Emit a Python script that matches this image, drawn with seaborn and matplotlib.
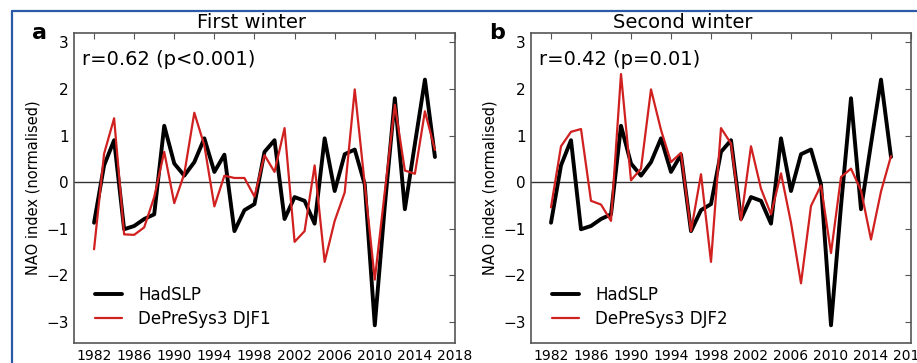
import matplotlib
matplotlib.use("Agg")
import matplotlib.pyplot as plt
from matplotlib.lines import Line2D
import seaborn as sns
import pandas as pd

years = list(range(1982, 2017))
hadslp = [-0.87, 0.36, 0.90, -1.01, -0.94, -0.79, -0.69, 1.21, 0.40, 0.14,
          0.43, 0.94, 0.22, 0.59, -1.05, -0.60, -0.47, 0.65, 0.90, -0.79,
          -0.32, -0.40, -0.89, 0.94, -0.19, 0.60, 0.70, -0.05, -3.07, -0.51,
          1.80, -0.58, 0.82, 2.20, 0.54]
djf1 = [-1.44, 0.61, 1.37, -1.12, -1.13, -0.97, -0.32, 0.65, -0.45, 0.18,
        1.49, 0.79, -0.52, 0.14, 0.09, 0.09, -0.31, 0.58, 0.22, 1.16,
        -1.28, -1.05, 0.36, -1.71, -0.83, -0.22, 1.99, -0.05, -2.09, -0.20,
        1.66, 0.25, 0.18, 1.52, 0.69]
djf2 = [-0.54, 0.77, 1.08, 1.14, -0.40, -0.48, -0.83, 2.32, 0.04, 0.29,
        1.99, 1.12, 0.43, 0.63, -1.05, 0.17, -1.71, 1.16, 0.83, -0.82,
        0.77, -0.14, -0.69, 0.19, -0.87, -2.17, -0.51, -0.07, -1.52, 0.11,
        0.29, -0.18, -1.23, -0.20, 0.56]

panel_letters = ["a", "b"]
titles = ["First winter", "Second winter"]
stats = ["r=0.62 (p<0.001)", "r=0.42 (p=0.01)"]
model_labels = ["DePreSys3 DJF1", "DePreSys3 DJF2"]
models = [djf1, djf2]
xticks = list(range(1982, 2019, 4))
yticks = [-3, -2, -1, 0, 1, 2, 3]

sns.set_style("white")
plt.rcParams["font.family"] = ["DejaVu Sans"]
plt.rcParams["text.color"] = "black"
plt.rcParams["axes.labelcolor"] = "black"
plt.rcParams["xtick.color"] = "black"
plt.rcParams["ytick.color"] = "black"

fig = plt.figure(figsize=(9.17, 3.63), dpi=100)
ax_pos = [[74 / 917, 20 / 363, 381 / 917, 310 / 363],
          [531 / 917, 20 / 363, 380 / 917, 310 / 363]]
title_x = [0.465, 0.40]
red = "#d02020"

for i in range(2):
    ax = fig.add_axes(ax_pos[i])
    df_obs = pd.DataFrame({"year": years, "nao": hadslp})
    df_mod = pd.DataFrame({"year": years, "nao": models[i]})
    ax.axhline(0, color="#333333", lw=1.0, zorder=1)
    sns.lineplot(data=df_obs, x="year", y="nao", ax=ax, color="black",
                 lw=2.8, label="HadSLP", zorder=3)
    sns.lineplot(data=df_mod, x="year", y="nao", ax=ax, color=red,
                 lw=1.6, label=model_labels[i], zorder=4)
    ax.set_xlim(1980, 2018)
    ax.set_ylim(-3.45, 3.2)
    ax.set_xticks(xticks)
    ax.set_yticks(yticks)
    ax.set_xticklabels([str(t) for t in xticks], fontsize=10)
    ax.set_yticklabels(["\u22123", "\u22122", "\u22121", "0", "1", "2", "3"], fontsize=11)
    ax.set_xlabel("")
    ax.set_ylabel("NAO index (normalised)", fontsize=10.5, labelpad=4)
    ax.tick_params(direction="in", top=True, right=True, length=4, width=0.8,
                   color="#555555", labelcolor="black", pad=4)
    for s in ax.spines.values():
        s.set_color("#555555")
        s.set_linewidth(1.2)
    ax.text(0.021, 0.913, stats[i], transform=ax.transAxes, fontsize=14,
            va="center", ha="left", color="black")
    ax.text(title_x[i], 1.035, titles[i], transform=ax.transAxes,
            fontsize=14, va="center", ha="center", color="black")
    ax.text(-0.09, 1.0, panel_letters[i], transform=ax.transAxes,
            fontsize=16, fontweight="bold", va="center", ha="center", color="black")
    ax.legend(loc="lower left", bbox_to_anchor=(0.055, 0.05), frameon=False,
              fontsize=12, handlelength=1.6, handletextpad=1.0,
              labelspacing=0.35, borderpad=0, borderaxespad=0)

blue = "#2b5ba8"
fig.add_artist(Line2D([12 / 917, 1.0], [1 - 11 / 363, 1 - 11 / 363],
                      color=blue, lw=1.6, transform=fig.transFigure))
fig.add_artist(Line2D([12 / 917, 12 / 917], [0, 1 - 11 / 363],
                      color=blue, lw=1.6, transform=fig.transFigure))

fig.savefig("out.png", dpi=100, facecolor="white")
